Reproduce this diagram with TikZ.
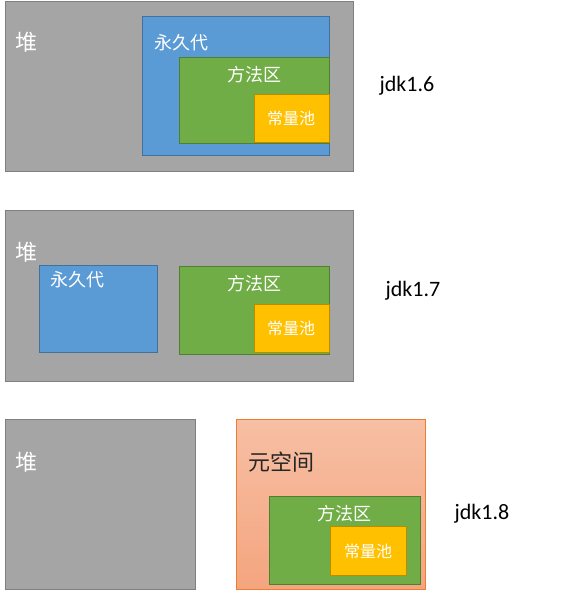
\documentclass[tikz,border=0pt]{standalone}
\usepackage{fontspec}
\setmainfont{Carlito}
\newfontfamily\cjk{Noto Sans CJK SC}
\definecolor{heapfill}{HTML}{A5A5A5}
\definecolor{heapline}{HTML}{7F7F7F}
\definecolor{permfill}{HTML}{5B9BD5}
\definecolor{permline}{HTML}{41719C}
\definecolor{methfill}{HTML}{70AD47}
\definecolor{methline}{HTML}{507E32}
\definecolor{poolfill}{HTML}{FFC000}
\definecolor{poolline}{HTML}{BC8C00}
\definecolor{metatop}{HTML}{F7BFA4}
\definecolor{metabot}{HTML}{F4A57F}
\definecolor{metaline}{HTML}{ED7D31}
\begin{document}
\begin{tikzpicture}[x=1pt,y=-1pt,line width=0.9pt,
  heapbox/.style={fill=heapfill,draw=heapline},
  permbox/.style={fill=permfill,draw=permline},
  methbox/.style={fill=methfill,draw=methline},
  poolbox/.style={fill=poolfill,draw=poolline},
  lbl/.style={text=white,font=\cjk,inner sep=0pt},
  big/.style={lbl,font=\cjk\fontsize{22}{22}\selectfont},
  mid/.style={lbl,font=\cjk\fontsize{18}{18}\selectfont},
  small/.style={lbl,font=\cjk\fontsize{16}{16}\selectfont},
  ver/.style={font=\fontsize{22}{22}\selectfont,text=black,inner sep=0pt}]
\useasboundingbox (0,0) rectangle (581,590);
% panel 1
\draw[heapbox] (5,1) rectangle (353,171);
\draw[permbox] (142,16) rectangle (329,155);
\draw[methbox] (179,57) rectangle (329,143);
\draw[poolbox] (254,94) rectangle (329,142);
\node[big] (h1) at (27,42) {堆};
\node[mid] (p1) at (181,43) {永久代};
\node[mid] (m1) at (254,75) {方法区};
\node[small] (c1) at (291,118) {常量池};
\node[ver] (v1) at (407,86) {jdk1.6};
% panel 2
\draw[heapbox] (5,210) rectangle (353,381);
\draw[permbox] (39,265) rectangle (157,352);
\draw[methbox] (179,266) rectangle (329,354);
\draw[poolbox] (254,304) rectangle (329,352);
\node[big] (h2) at (27,252) {堆};
\node[mid] (p2) at (77,280) {永久代};
\node[mid] (m2) at (254,284) {方法区};
\node[small] (c2) at (291,328) {常量池};
\node[ver] (v2) at (413,291) {jdk1.7};
% panel 3
\draw[heapbox] (5,419) rectangle (195,589);
\shade[top color=metatop,bottom color=metabot] (236,419) rectangle (425,589);
\draw[draw=metaline] (236,419) rectangle (425,589);
\draw[methbox] (269,496) rectangle (420,584);
\draw[poolbox] (330,526) rectangle (406,575);
\node[big] (h3) at (27,462) {堆};
\node[big,text=black!85] (e3) at (281,462) {元空间};
\node[mid] (m3) at (344,514) {方法区};
\node[small] (c3) at (368,551) {常量池};
\node[ver] (v3) at (482,514) {jdk1.8};
\end{tikzpicture}
\end{document}
